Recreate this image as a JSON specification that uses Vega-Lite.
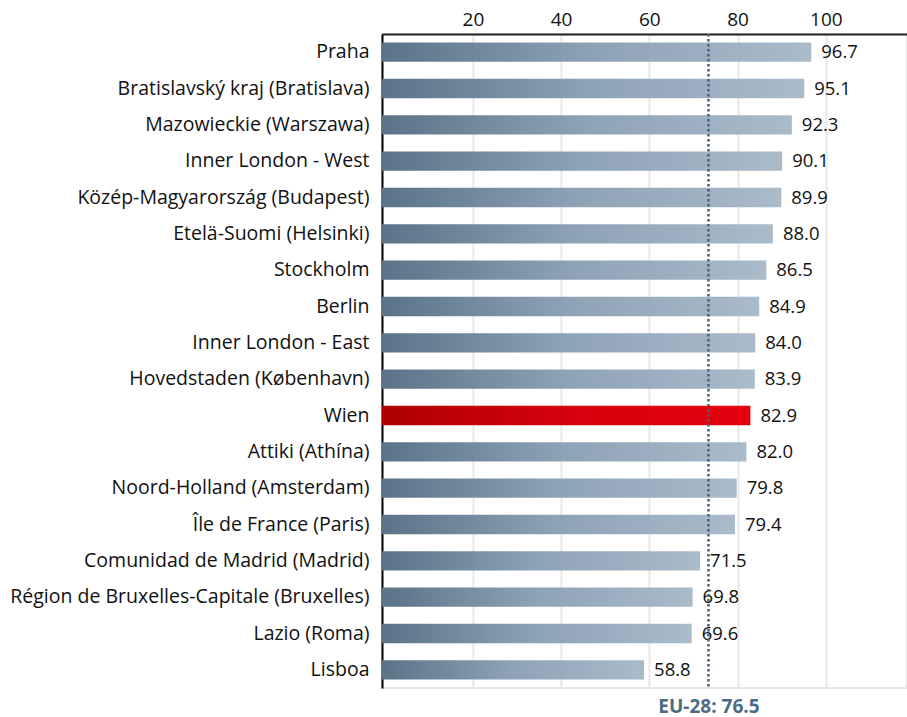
{
  "$schema": "https://vega.github.io/schema/vega-lite/v6.json",
  "autosize": {"type": "none"},
  "padding": {"left": 382, "top": 34, "right": 0, "bottom": 29},
  "width": 525,
  "height": 654,
  "background": "white",
  "config": {
    "view": {"stroke": "#e6e6e6", "strokeWidth": 2},
    "font": "Open Sans"
  },
  "layer": [
    {
      "data": {"name": "regions", "values": [
        {"region": "Praha", "value": 96.7, "highlight": false},
        {"region": "Bratislavský kraj (Bratislava)", "value": 95.1, "highlight": false},
        {"region": "Mazowieckie (Warszawa)", "value": 92.3, "highlight": false},
        {"region": "Inner London - West", "value": 90.1, "highlight": false},
        {"region": "Közép-Magyarország (Budapest)", "value": 89.9, "highlight": false},
        {"region": "Etelä-Suomi (Helsinki)", "value": 88.0, "highlight": false},
        {"region": "Stockholm", "value": 86.5, "highlight": false},
        {"region": "Berlin", "value": 84.9, "highlight": false},
        {"region": "Inner London - East", "value": 84.0, "highlight": false},
        {"region": "Hovedstaden (København)", "value": 83.9, "highlight": false},
        {"region": "Wien", "value": 82.9, "highlight": true},
        {"region": "Attiki (Athína)", "value": 82.0, "highlight": false},
        {"region": "Noord-Holland (Amsterdam)", "value": 79.8, "highlight": false},
        {"region": "Île de France (Paris)", "value": 79.4, "highlight": false},
        {"region": "Comunidad de Madrid (Madrid)", "value": 71.5, "highlight": false},
        {"region": "Région de Bruxelles-Capitale (Bruxelles)", "value": 69.8, "highlight": false},
        {"region": "Lazio (Roma)", "value": 69.6, "highlight": false},
        {"region": "Lisboa", "value": 58.8, "highlight": false}
      ]},
      "layer": [
        {
          "mark": {"type": "bar", "cornerRadius": 0},
          "encoding": {
            "y": {
              "field": "region", "type": "nominal", "sort": null,
              "scale": {"paddingInner": 0.47},
              "axis": {
                "title": null, "ticks": false, "labelPadding": 13,
                "labelFontSize": 19.5, "labelColor": "#111111", "labelFont": "Open Sans",
                "domainColor": "#000000", "domainWidth": 2, "grid": false, "labelLimit": 400
              }
            },
            "x": {
              "field": "value", "type": "quantitative",
              "scale": {"domain": [-0.6, 118.4], "nice": false, "zero": false},
              "axis": {
                "orient": "top", "title": null, "values": [20, 40, 60, 80, 100],
                "ticks": false, "labelPadding": 5, "labelFontSize": 19,
                "labelColor": "#111111", "labelFont": "Open Sans",
                "domainColor": "#222222", "domainWidth": 2,
                "grid": true, "gridColor": "#e8e8e8", "gridWidth": 2
              }
            },
            "x2": {"datum": -0.6},
            "color": {
              "condition": {
                "test": "datum.highlight",
                "value": {"gradient": "linear", "x1": 0, "y1": 0, "x2": 1, "y2": 0,
                  "stops": [
                    {"offset": 0, "color": "#ad0000"},
                    {"offset": 0.5, "color": "#d6000c"},
                    {"offset": 1, "color": "#e5000f"}
                  ]}
              },
              "value": {"gradient": "linear", "x1": 0, "y1": 0, "x2": 1, "y2": 0,
                "stops": [
                  {"offset": 0, "color": "#5a7388"},
                  {"offset": 0.5, "color": "#8ea3b6"},
                  {"offset": 1, "color": "#aabbca"}
                ]}
            }
          }
        },
        {
          "mark": {"type": "text", "align": "left", "baseline": "middle", "dx": 10,
            "fontSize": 18.5, "font": "Open Sans", "color": "#111111"},
          "encoding": {
            "y": {"field": "region", "type": "nominal", "sort": null},
            "x": {"field": "value", "type": "quantitative"},
            "text": {"field": "value", "type": "quantitative", "format": ".1f"}
          }
        }
      ]
    },
    {
      "data": {"values": [{"eu_pos": 73.4, "label": "EU-28: 76.5"}]},
      "mark": {"type": "rule", "color": "#46627a", "strokeWidth": 2.5, "strokeDash": [2.5, 2.5]},
      "encoding": {
        "x": {
          "field": "eu_pos", "type": "quantitative",
          "axis": {
            "orient": "bottom", "title": null, "values": [73.4],
            "labelExpr": "'EU-28: 76.5'", "ticks": false, "domain": false, "grid": false,
            "labelPadding": 9, "labelFontSize": 19, "labelFontWeight": "bold",
            "labelColor": "#4a6b83", "labelFont": "Open Sans"
          }
        }
      }
    }
  ],
  "resolve": {"axis": {"x": "independent"}}
}
